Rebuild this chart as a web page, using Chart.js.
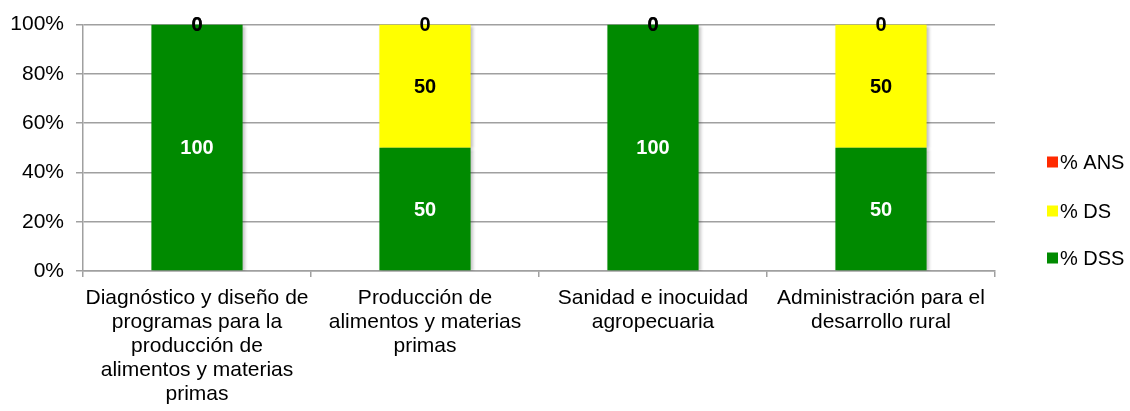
<!DOCTYPE html>
<html>
<head>
<meta charset="utf-8">
<script src="https://cdn.jsdelivr.net/npm/chart.js@4/dist/chart.umd.min.js"></script>
<style>
  html, body { margin: 0; padding: 0; background: #fff; }
  #wrap { width: 1130px; height: 411px; position: relative; }
</style>
</head>
<body>
<div id="wrap"><canvas id="chart"></canvas></div>
<script>
const categories = [
  ['Diagnóstico y diseño de', 'programas para la', 'producción de', 'alimentos y materias', 'primas'],
  ['Producción de', 'alimentos y materias', 'primas'],
  ['Sanidad e inocuidad', 'agropecuaria'],
  ['Administración para el', 'desarrollo rural']
];
const seriesNames = ['% DSS', '% DS', '% ANS'];
const dssValues = [100, 50, 100, 50];
const dsValues = [0, 50, 0, 50];
const ansValues = [0, 0, 0, 0];
const yTicks = [0, 20, 40, 60, 80, 100];

const colors = ['#008a00', '#ffff00', '#ff2a00'];
const labelColors = ['#ffffff', '#000000', '#000000'];
const font = "'Liberation Sans', Arial, sans-serif";

// soft shadow under the bars, like the office chart
const barShadow = {
  id: 'barShadow',
  beforeDatasetsDraw(chart) {
    const ctx = chart.ctx;
    ctx.save();
    ctx.shadowColor = 'rgba(0,0,0,0.25)';
    ctx.shadowBlur = 3;
    ctx.shadowOffsetX = 2;
    ctx.shadowOffsetY = 1;
  },
  afterDatasetsDraw(chart) {
    chart.ctx.restore();
  }
};

const barLabels = {
  id: 'barLabels',
  afterDatasetsDraw(chart) {
    const ctx = chart.ctx;
    ctx.save();
    ctx.font = 'bold 20px ' + font;
    ctx.textAlign = 'center';
    ctx.textBaseline = 'middle';
    chart.data.datasets.forEach((ds, i) => {
      const meta = chart.getDatasetMeta(i);
      meta.data.forEach((el, j) => {
        ctx.fillStyle = labelColors[i];
        ctx.fillText(String(ds.data[j]), el.x, (el.y + el.base) / 2 + 1);
      });
    });
    ctx.restore();
  }
};

// legend drawn at the right, reversed like the original
const sideLegend = {
  id: 'sideLegend',
  afterDraw(chart) {
    const ctx = chart.ctx;
    const x = chart.chartArea.right + 52;
    const rowsY = [162, 211, 258];
    ctx.save();
    ctx.font = '20px ' + font;
    ctx.textBaseline = 'middle';
    ctx.textAlign = 'left';
    const items = chart.data.datasets.map(d => ({ label: d.label, color: d.backgroundColor })).reverse();
    items.forEach((it, k) => {
      ctx.fillStyle = it.color;
      ctx.fillRect(x, rowsY[k] - 5.5, 11, 11);
      ctx.fillStyle = '#000';
      ctx.fillText(it.label, x + 13, rowsY[k] + 1);
    });
    ctx.restore();
  }
};

new Chart(document.getElementById('chart'), {
  type: 'bar',
  data: {
    labels: categories,
    datasets: [
      { label: seriesNames[0], data: dssValues, backgroundColor: colors[0] },
      { label: seriesNames[1], data: dsValues, backgroundColor: colors[1] },
      { label: seriesNames[2], data: ansValues, backgroundColor: colors[2] }
    ]
  },
  options: {
    responsive: true,
    maintainAspectRatio: false,
    animation: false,
    layout: { padding: { left: 0, right: 135, top: 23, bottom: 0 } },
    datasets: { bar: { barPercentage: 0.4, categoryPercentage: 1, borderWidth: 0 } },
    plugins: { legend: { display: false }, tooltip: { enabled: false } },
    scales: {
      x: {
        stacked: true,
        afterFit: s => { s.height = 140; },
        grid: { offset: true, drawOnChartArea: false, drawTicks: true, tickLength: 6, color: '#a0a0a0', lineWidth: 1.5 },
        border: { color: '#a0a0a0', width: 1.5 },
        ticks: { color: '#000', font: { family: font, size: 21, lineHeight: 1.143 }, padding: 9, maxRotation: 0, autoSkip: false }
      },
      y: {
        stacked: true,
        min: 0,
        max: 100,
        afterBuildTicks: s => { s.ticks = yTicks.map(v => ({ value: v })); },
        afterFit: s => { s.width = 83; },
        grid: { color: '#a0a0a0', lineWidth: 1.5, tickLength: 7 },
        border: { color: '#a0a0a0', width: 1.5 },
        ticks: { color: '#000', font: { family: font, size: 21 }, padding: 12, callback: v => v + '%' }
      }
    }
  },
  plugins: [barShadow, barLabels, sideLegend]
});
</script>
</body>
</html>
